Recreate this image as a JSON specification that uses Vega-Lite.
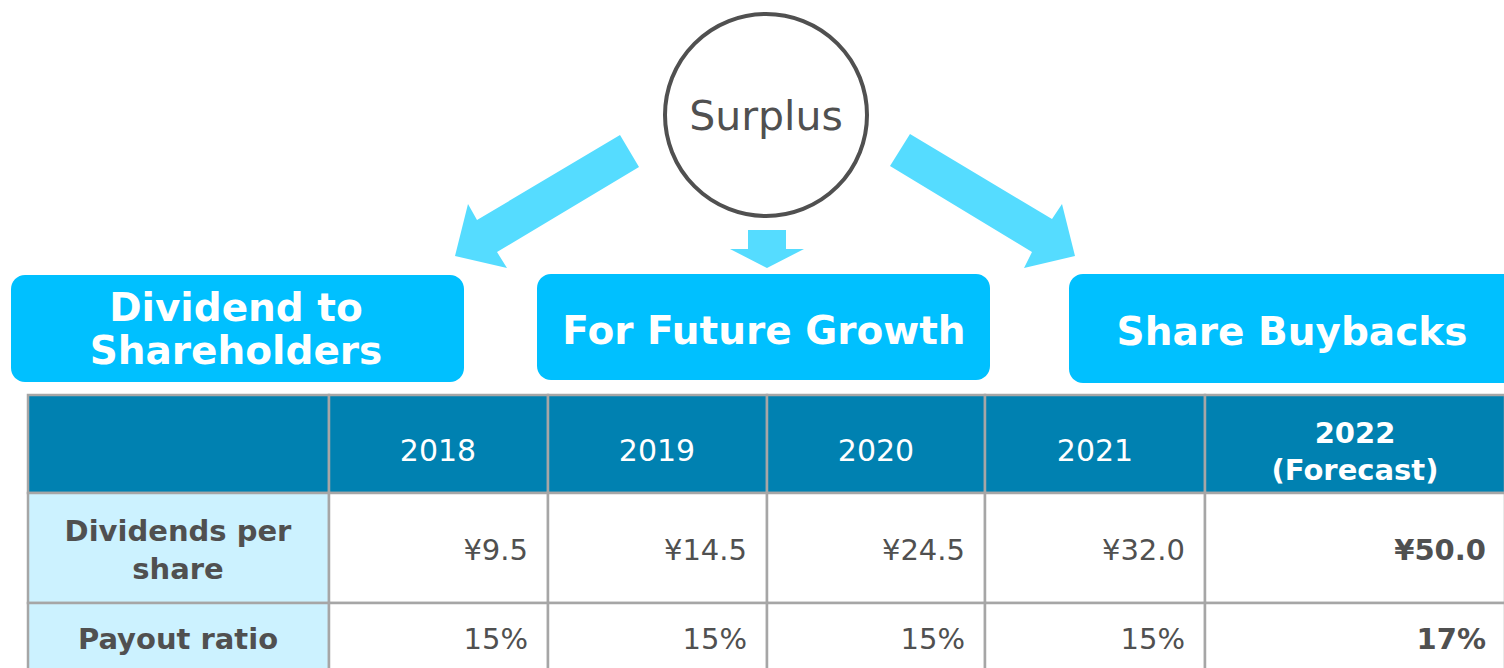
{
  "$schema": "https://vega.github.io/schema/vega-lite/v6.json",
  "width": 1504,
  "height": 668,
  "padding": 0,
  "autosize": {"type": "none"},
  "background": "white",
  "config": {"view": {"stroke": null}, "font": "DejaVu Sans"},
  "datasets": {
    "arrows": [
      {"arrow": "left", "i": 0, "x": 620, "y": 135},
      {"arrow": "left", "i": 1, "x": 477, "y": 220},
      {"arrow": "left", "i": 2, "x": 468, "y": 204},
      {"arrow": "left", "i": 3, "x": 455, "y": 256},
      {"arrow": "left", "i": 4, "x": 507, "y": 268},
      {"arrow": "left", "i": 5, "x": 497, "y": 252},
      {"arrow": "left", "i": 6, "x": 639, "y": 167},
      {"arrow": "mid", "i": 0, "x": 748, "y": 230},
      {"arrow": "mid", "i": 1, "x": 786, "y": 230},
      {"arrow": "mid", "i": 2, "x": 786, "y": 249},
      {"arrow": "mid", "i": 3, "x": 804, "y": 249},
      {"arrow": "mid", "i": 4, "x": 767, "y": 268},
      {"arrow": "mid", "i": 5, "x": 730, "y": 249},
      {"arrow": "mid", "i": 6, "x": 748, "y": 249},
      {"arrow": "right", "i": 0, "x": 910, "y": 134},
      {"arrow": "right", "i": 1, "x": 1052, "y": 219},
      {"arrow": "right", "i": 2, "x": 1062, "y": 204},
      {"arrow": "right", "i": 3, "x": 1075, "y": 256},
      {"arrow": "right", "i": 4, "x": 1024, "y": 268},
      {"arrow": "right", "i": 5, "x": 1032, "y": 252},
      {"arrow": "right", "i": 6, "x": 890, "y": 166}
    ],
    "circle": [{"label": "Surplus", "x": 766, "y": 115}],
    "boxes": [
      {"box": "Dividend to Shareholders", "x0": 11, "x1": 464, "y0": 275, "y1": 382},
      {"box": "For Future Growth", "x0": 537, "x1": 990, "y0": 274, "y1": 380},
      {"box": "Share Buybacks", "x0": 1069, "x1": 1540, "y0": 274, "y1": 383}
    ],
    "boxLabels": [
      {"text": "Dividend to", "x": 236, "y": 321},
      {"text": "Shareholders", "x": 236, "y": 364},
      {"text": "For Future Growth", "x": 764, "y": 344},
      {"text": "Share Buybacks", "x": 1292, "y": 345}
    ],
    "cols": [
      {"col": "label", "left": 28, "right": 329, "center": 178},
      {"col": "2018", "left": 329, "right": 548, "center": 438},
      {"col": "2019", "left": 548, "right": 767, "center": 657},
      {"col": "2020", "left": 767, "right": 985, "center": 876},
      {"col": "2021", "left": 985, "right": 1205, "center": 1095},
      {"col": "2022", "left": 1205, "right": 1505, "center": 1355}
    ],
    "rows": [
      {"row": "header", "top": 395, "bottom": 493, "mid": 452},
      {"row": "dps", "top": 493, "bottom": 603, "mid": 551},
      {"row": "payout", "top": 603, "bottom": 677, "mid": 640}
    ],
    "cells": [
      {"row": "header", "col": "label", "text": "", "kind": "header", "bold": false},
      {"row": "header", "col": "2018", "text": "2018", "kind": "header", "bold": false},
      {"row": "header", "col": "2019", "text": "2019", "kind": "header", "bold": false},
      {"row": "header", "col": "2020", "text": "2020", "kind": "header", "bold": false},
      {"row": "header", "col": "2021", "text": "2021", "kind": "header", "bold": false},
      {"row": "header", "col": "2022", "text": "2022\n(Forecast)", "kind": "header", "bold": true},
      {"row": "dps", "col": "label", "text": "Dividends per\nshare", "kind": "label", "bold": true},
      {"row": "dps", "col": "2018", "text": "¥9.5", "kind": "value", "bold": false},
      {"row": "dps", "col": "2019", "text": "¥14.5", "kind": "value", "bold": false},
      {"row": "dps", "col": "2020", "text": "¥24.5", "kind": "value", "bold": false},
      {"row": "dps", "col": "2021", "text": "¥32.0", "kind": "value", "bold": false},
      {"row": "dps", "col": "2022", "text": "¥50.0", "kind": "value", "bold": true},
      {"row": "payout", "col": "label", "text": "Payout ratio", "kind": "label", "bold": true},
      {"row": "payout", "col": "2018", "text": "15%", "kind": "value", "bold": false},
      {"row": "payout", "col": "2019", "text": "15%", "kind": "value", "bold": false},
      {"row": "payout", "col": "2020", "text": "15%", "kind": "value", "bold": false},
      {"row": "payout", "col": "2021", "text": "15%", "kind": "value", "bold": false},
      {"row": "payout", "col": "2022", "text": "17%", "kind": "value", "bold": true}
    ]
  },
  "layer": [
    {
      "data": {"name": "arrows"},
      "mark": {"type": "line", "filled": true, "color": "#55DCFF", "strokeWidth": 0},
      "encoding": {
        "x": {"field": "x", "type": "quantitative", "scale": {"domain": [0, 1504], "nice": false, "zero": false}, "axis": null},
        "y": {"field": "y", "type": "quantitative", "scale": {"domain": [0, 668], "nice": false, "zero": false, "reverse": true}, "axis": null},
        "detail": {"field": "arrow"},
        "order": {"field": "i", "type": "quantitative"}
      }
    },
    {
      "data": {"name": "circle"},
      "layer": [
        {
          "mark": {"type": "point", "shape": "circle", "size": 40804, "filled": false, "fill": "white", "stroke": "#505050", "strokeWidth": 4, "opacity": 1},
          "encoding": {
            "x": {"field": "x", "type": "quantitative", "scale": {"domain": [0, 1504], "nice": false, "zero": false}, "axis": null},
            "y": {"field": "y", "type": "quantitative", "scale": {"domain": [0, 668], "nice": false, "zero": false, "reverse": true}, "axis": null}
          }
        },
        {
          "mark": {"type": "text", "font": "DejaVu Sans", "fontSize": 41, "color": "#505050", "baseline": "alphabetic", "align": "center", "dy": 15},
          "encoding": {
            "x": {"field": "x", "type": "quantitative", "scale": {"domain": [0, 1504], "nice": false, "zero": false}, "axis": null},
            "y": {"field": "y", "type": "quantitative", "scale": {"domain": [0, 668], "nice": false, "zero": false, "reverse": true}, "axis": null},
            "text": {"field": "label"}
          }
        }
      ]
    },
    {
      "data": {"name": "boxes"},
      "mark": {"type": "rect", "color": "#00C0FF", "cornerRadius": 14},
      "encoding": {
        "x": {"field": "x0", "type": "quantitative", "scale": {"domain": [0, 1504], "nice": false, "zero": false}, "axis": null},
        "x2": {"field": "x1"},
        "y": {"field": "y0", "type": "quantitative", "scale": {"domain": [0, 668], "nice": false, "zero": false, "reverse": true}, "axis": null},
        "y2": {"field": "y1"}
      }
    },
    {
      "data": {"name": "boxLabels"},
      "mark": {"type": "text", "font": "DejaVu Sans", "fontSize": 39, "fontWeight": "bold", "color": "white", "baseline": "alphabetic", "align": "center"},
      "encoding": {
        "x": {"field": "x", "type": "quantitative", "scale": {"domain": [0, 1504], "nice": false, "zero": false}, "axis": null},
        "y": {"field": "y", "type": "quantitative", "scale": {"domain": [0, 668], "nice": false, "zero": false, "reverse": true}, "axis": null},
        "text": {"field": "text"}
      }
    },
    {
      "data": {"name": "cells"},
      "transform": [
        {"lookup": "col", "from": {"data": {"name": "cols"}, "key": "col", "fields": ["left", "right", "center"]}},
        {"lookup": "row", "from": {"data": {"name": "rows"}, "key": "row", "fields": ["top", "bottom", "mid"]}}
      ],
      "layer": [
        {
          "mark": {"type": "rect", "stroke": "#A6A6A6", "strokeWidth": 2.5},
          "encoding": {
            "x": {"field": "left", "type": "quantitative", "scale": {"domain": [0, 1504], "nice": false, "zero": false}, "axis": null},
            "x2": {"field": "right"},
            "y": {"field": "top", "type": "quantitative", "scale": {"domain": [0, 668], "nice": false, "zero": false, "reverse": true}, "axis": null},
            "y2": {"field": "bottom"},
            "fill": {"field": "kind", "type": "nominal", "scale": {"domain": ["header", "label", "value"], "range": ["#0081B1", "#CCF2FF", "#FFFFFF"]}, "legend": null}
          }
        },
        {
          "transform": [{"filter": "datum.kind == 'header' && !datum.bold"}],
          "mark": {"type": "text", "font": "DejaVu Sans", "fontSize": 30, "color": "white", "baseline": "middle", "align": "center"},
          "encoding": {
            "x": {"field": "center", "type": "quantitative", "scale": {"domain": [0, 1504], "nice": false, "zero": false}, "axis": null},
            "y": {"field": "mid", "type": "quantitative", "scale": {"domain": [0, 668], "nice": false, "zero": false, "reverse": true}, "axis": null},
            "text": {"field": "text"}
          }
        },
        {
          "transform": [{"filter": "datum.kind == 'header' && datum.bold"}],
          "mark": {"type": "text", "font": "DejaVu Sans", "fontSize": 29, "fontWeight": "bold", "color": "white", "baseline": "middle", "align": "center", "lineBreak": "\n", "lineHeight": 37, "dy": -18},
          "encoding": {
            "x": {"field": "center", "type": "quantitative", "scale": {"domain": [0, 1504], "nice": false, "zero": false}, "axis": null},
            "y": {"field": "mid", "type": "quantitative", "scale": {"domain": [0, 668], "nice": false, "zero": false, "reverse": true}, "axis": null},
            "text": {"field": "text"}
          }
        },
        {
          "transform": [{"filter": "datum.kind == 'label' && datum.row == 'dps'"}],
          "mark": {"type": "text", "font": "DejaVu Sans", "fontSize": 29, "fontWeight": "bold", "color": "#505050", "baseline": "middle", "align": "center", "lineBreak": "\n", "lineHeight": 38, "dy": -19},
          "encoding": {
            "x": {"field": "center", "type": "quantitative", "scale": {"domain": [0, 1504], "nice": false, "zero": false}, "axis": null},
            "y": {"field": "mid", "type": "quantitative", "scale": {"domain": [0, 668], "nice": false, "zero": false, "reverse": true}, "axis": null},
            "text": {"field": "text"}
          }
        },
        {
          "transform": [{"filter": "datum.kind == 'label' && datum.row != 'dps'"}],
          "mark": {"type": "text", "font": "DejaVu Sans", "fontSize": 29, "fontWeight": "bold", "color": "#505050", "baseline": "middle", "align": "center"},
          "encoding": {
            "x": {"field": "center", "type": "quantitative", "scale": {"domain": [0, 1504], "nice": false, "zero": false}, "axis": null},
            "y": {"field": "mid", "type": "quantitative", "scale": {"domain": [0, 668], "nice": false, "zero": false, "reverse": true}, "axis": null},
            "text": {"field": "text"}
          }
        },
        {
          "transform": [{"filter": "datum.kind == 'value' && !datum.bold"}],
          "mark": {"type": "text", "font": "DejaVu Sans", "fontSize": 29, "color": "#505050", "baseline": "middle", "align": "right", "dx": -20},
          "encoding": {
            "x": {"field": "right", "type": "quantitative", "scale": {"domain": [0, 1504], "nice": false, "zero": false}, "axis": null},
            "y": {"field": "mid", "type": "quantitative", "scale": {"domain": [0, 668], "nice": false, "zero": false, "reverse": true}, "axis": null},
            "text": {"field": "text"}
          }
        },
        {
          "transform": [{"filter": "datum.kind == 'value' && datum.bold"}],
          "mark": {"type": "text", "font": "DejaVu Sans", "fontSize": 29, "fontWeight": "bold", "color": "#505050", "baseline": "middle", "align": "right", "dx": -19},
          "encoding": {
            "x": {"field": "right", "type": "quantitative", "scale": {"domain": [0, 1504], "nice": false, "zero": false}, "axis": null},
            "y": {"field": "mid", "type": "quantitative", "scale": {"domain": [0, 668], "nice": false, "zero": false, "reverse": true}, "axis": null},
            "text": {"field": "text"}
          }
        }
      ]
    }
  ]
}
